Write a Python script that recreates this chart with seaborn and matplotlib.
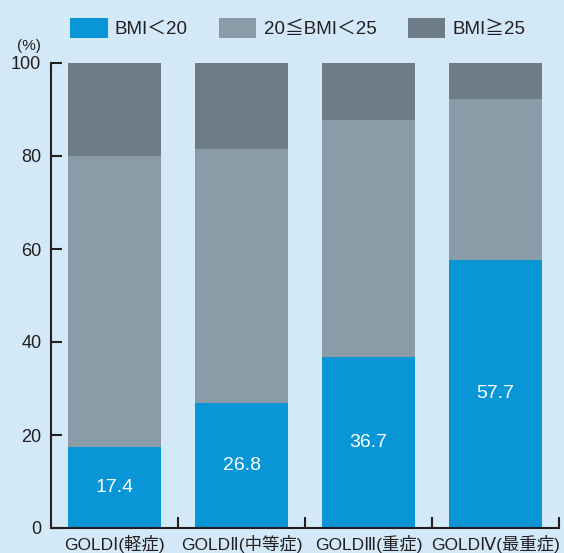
import matplotlib
matplotlib.use('Agg')
import matplotlib.pyplot as plt
import matplotlib.patches as mpatches
import numpy as np
import pandas as pd
import seaborn as sns

# data (% of patients)
stages = ['GOLDⅠ(軽症)', 'GOLDⅡ(中等症)', 'GOLDⅢ(重症)', 'GOLDⅣ(最重症)']
bmi_low = [17.4, 26.8, 36.7, 57.7]
bmi_mid = [62.6, 54.7, 51.0, 34.6]
bmi_high = [20.0, 18.5, 12.3, 7.7]
series_names = ['BMI＜20', '20≦BMI＜25', 'BMI≧25']
yticks = [0, 20, 40, 60, 80, 100]

bg = '#D3E9F8'
colors = ['#0896D7', '#8A9CA8', '#6E7C88']
ink = '#231F20'

sns.set_theme(style='white')
plt.rcParams['font.family'] = ['Liberation Sans', 'Noto Sans CJK JP', 'DejaVu Sans']

df = pd.DataFrame({'stage': stages, 'low': bmi_low, 'mid': bmi_mid, 'high': bmi_high})
df['top_low'] = df['low']
df['top_mid'] = df['low'] + df['mid']
df['top_high'] = df['low'] + df['mid'] + df['high']

fig = plt.figure(figsize=(5.64, 5.53), dpi=100, facecolor=bg)
ax = fig.add_axes([51 / 564, 1 - 528 / 553, 508 / 564, 465 / 553])
ax.set_facecolor(bg)

# stacked bars: draw cumulative heights from the back to the front
for col, c in zip(['top_high', 'top_mid', 'top_low'], colors[::-1]):
    sns.barplot(data=df, x='stage', y=col, color=c, width=0.725,
                saturation=1, ax=ax, edgecolor='none', linewidth=0)

for i, v in enumerate(bmi_low):
    ax.text(i, v / 2, f'{v:.1f}', ha='center', va='center',
            color='white', fontsize=14)

ax.set_xlim(-0.5, 3.5)
ax.set_ylim(0, 100)
ax.set_yticks(yticks)
ax.set_yticklabels([str(t) for t in yticks], fontsize=13, color=ink)
ax.set_xticks(range(len(stages)))
ax.set_xticklabels(stages, fontsize=12.5, color=ink,
                   family=['Liberation Sans', 'DejaVu Sans', 'Noto Sans CJK JP'])
ax.set_xticks([0.5, 1.5, 2.5, 3.5], minor=True)
ax.tick_params(axis='x', which='major', length=0, pad=5)
ax.tick_params(axis='x', which='minor', direction='in', length=8,
               width=1.5, color=ink, bottom=True)
ax.tick_params(axis='y', direction='in', length=8, width=1.5,
               color=ink, pad=7, left=True)
ax.set_xlabel('')
ax.set_ylabel('')
for s in ['top', 'right']:
    ax.spines[s].set_visible(False)
for s in ['left', 'bottom']:
    ax.spines[s].set_color(ink)
    ax.spines[s].set_linewidth(1.5)

fig.text(29 / 564, 1 - 46 / 553, '(%)', ha='center', va='center',
         fontsize=11, color=ink)

handles = [mpatches.Patch(facecolor=c, edgecolor='none') for c in colors]
fig.legend(handles, series_names, loc='center left',
           bbox_to_anchor=(70 / 564, 1 - 28 / 553), ncol=3, frameon=False,
           fontsize=13.5, handlelength=2.0, handleheight=1.3,
           handletextpad=0.4, columnspacing=1.65, borderpad=0,
           borderaxespad=0, labelcolor=ink)

fig.savefig('out.png', dpi=100, facecolor=bg)
